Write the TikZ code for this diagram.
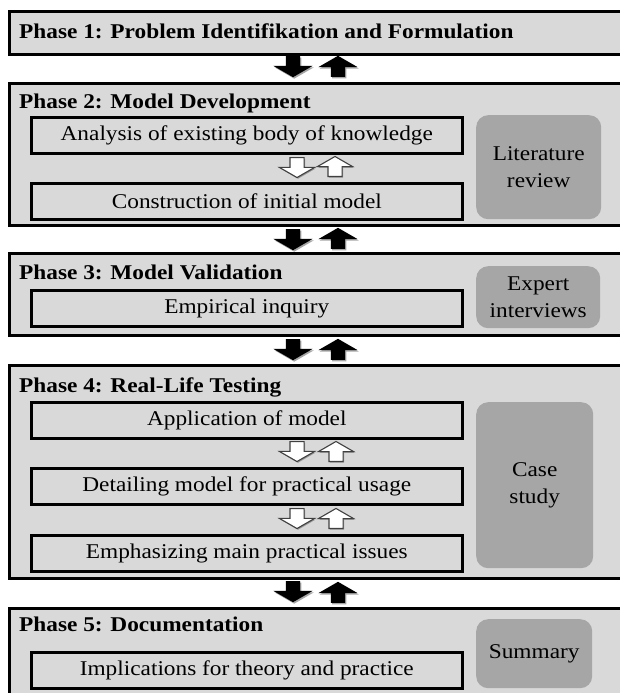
\documentclass[tikz,border=0pt]{standalone}
\usepackage{fontspec}
\setmainfont{Liberation Serif}[FakeStretch=1.11]
\usetikzlibrary{shapes.arrows, shadows, positioning}
\definecolor{phasegray}{HTML}{D9D9D9}
\definecolor{methodgray}{HTML}{A6A6A6}
\definecolor{hollowline}{HTML}{404040}

\begin{document}
\begin{tikzpicture}[
  x=1pt, y=-1pt,
  every node/.style={font=\fontsize{21}{26.5}\selectfont},
  phasebox/.style={rectangle, draw=black, line width=2.6pt, fill=phasegray, minimum width=640pt, minimum height=#1, anchor=north west, inner sep=0pt},
  phasetitle/.style={anchor=base west, inner sep=0pt, font=\fontsize{21}{26.5}\selectfont\bfseries},
  stepbox/.style={rectangle, draw=black, line width=2.6pt, fill=phasegray, minimum width=431pt, minimum height=36pt, anchor=north west, inner sep=0pt},
  methodbox/.style={rectangle, rounded corners=12pt, fill=methodgray, minimum height=#1, anchor=north west, align=center, inner sep=0pt},
  blockarrow/.style={single arrow, fill=black, inner sep=7pt, single arrow head extend=12.5pt, single arrow tip angle=120, minimum width=39pt, minimum height=21pt, anchor=tail, drop shadow={shadow xshift=1.2pt, shadow yshift=-1.5pt, opacity=0.35, fill=black}},
  hollowarrow/.style={single arrow, draw=hollowline, line width=1.1pt, fill=white, inner sep=6.5pt, single arrow head extend=10.5pt, single arrow tip angle=120, minimum width=34pt, minimum height=20pt, anchor=tail, drop shadow={shadow xshift=1pt, shadow yshift=-1.2pt, opacity=0.3, fill=black}},
]

\fill[white] (0,0) rectangle (619,693);
\useasboundingbox (0,0) rectangle (619,693);

% Phase 1
\node[phasebox=43pt] (p1) at (8,10) {};
\node[phasetitle] (t1) at (19,38) {Phase 1: Problem Identifikation and Formulation};

\node[blockarrow, shape border rotate=270] (dn1) at (293,56) {};
\node[blockarrow, shape border rotate=90] (up1) at (338,77) {};

% Phase 2
\node[phasebox=142pt] (p2) at (8,82) {};
\node[phasetitle] (t2) at (19,108) {Phase 2: Model Development};
\node[stepbox] (s21) at (30,116) {Analysis of existing body of knowledge};
\node[hollowarrow, shape border rotate=270] (hd21) at (297,157) {};
\node[hollowarrow, shape border rotate=90] (hu21) at (335,177) {};
\node[stepbox] (s22) at (30,182) {Construction of initial model};
\node[methodbox=104pt, minimum width=125pt] (m2) at (476,115) {Literature\\review};

\node[blockarrow, shape border rotate=270] (dn2) at (293,229) {};
\node[blockarrow, shape border rotate=90] (up2) at (338,249) {};

% Phase 3
\node[phasebox=82pt] (p3) at (8,252) {};
\node[phasetitle] (t3) at (19,279) {Phase 3: Model Validation};
\node[stepbox] (s31) at (30,289) {Empirical inquiry};
\node[methodbox=62pt, minimum width=124pt] (m3) at (476,266) {Expert\\interviews};

\node[blockarrow, shape border rotate=270] (dn3) at (293,339) {};
\node[blockarrow, shape border rotate=90] (up3) at (338,360) {};

% Phase 4
\node[phasebox=213pt] (p4) at (8,364) {};
\node[phasetitle] (t4) at (19,392) {Phase 4: Real-Life Testing};
\node[stepbox] (s41) at (30,401) {Application of model};
\node[hollowarrow, shape border rotate=270] (hd41) at (297,441) {};
\node[hollowarrow, shape border rotate=90] (hu41) at (336,462) {};
\node[stepbox] (s42) at (30,467) {Detailing model for practical usage};
\node[hollowarrow, shape border rotate=270] (hd42) at (297,508) {};
\node[hollowarrow, shape border rotate=90] (hu42) at (336,529) {};
\node[stepbox] (s43) at (30,534) {Emphasizing main practical issues};
\node[methodbox=166pt, minimum width=117pt] (m4) at (476,402) {Case\\study};

\node[blockarrow, shape border rotate=270] (dn4) at (293,581) {};
\node[blockarrow, shape border rotate=90] (up4) at (338,603) {};

% Phase 5
\node[phasebox=100pt] (p5) at (8,607) {};
\node[phasetitle] (t5) at (19,631) {Phase 5: Documentation};
\node[stepbox] (s51) at (30,651) {Implications for theory and practice};
\node[methodbox=69pt, minimum width=116pt] (m5) at (476,619) {Summary};

\end{tikzpicture}
\end{document}
